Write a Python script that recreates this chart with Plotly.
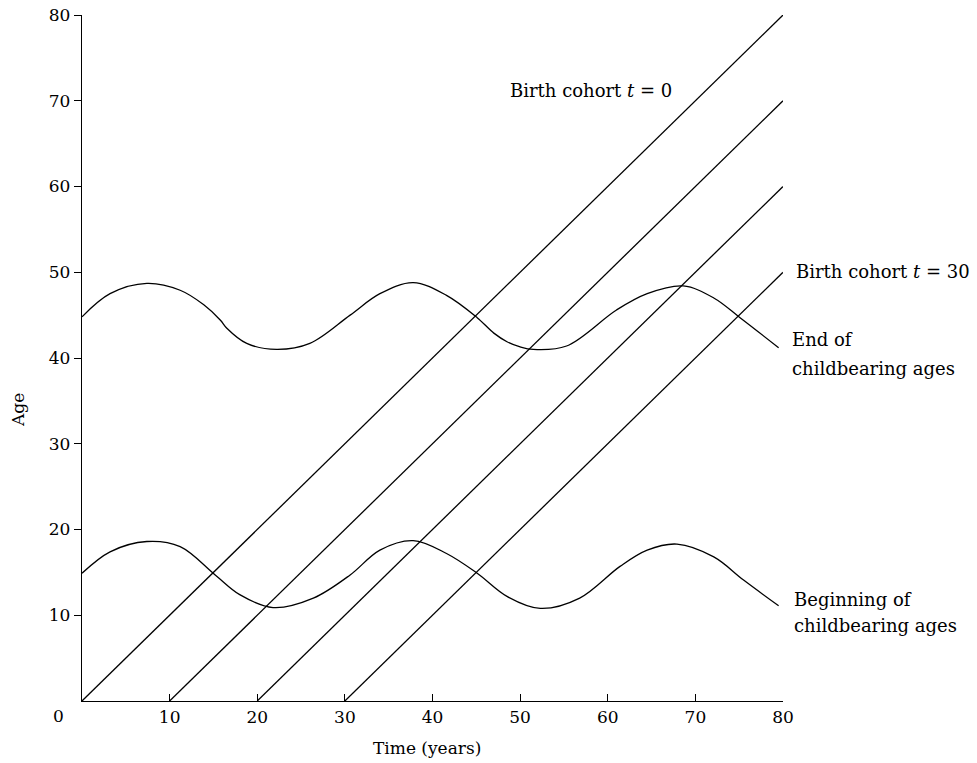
import plotly.graph_objects as go

# ---- data ----
cohort_starts = [0, 10, 20, 30]          # birth cohort start times
cohort_end_time = 80

end_t = [0, 3.2, 7.4, 11.2, 13.9, 15.8, 16.5, 18.8, 22.2, 26.0, 30.6, 34.0, 37.8,
         41.6, 45.1, 47.0, 48.5, 50.0, 51.5, 55.3, 61.0, 64.5, 68.6, 72.1, 75.1, 79.5]
end_age = [44.8, 47.5, 48.7, 47.9, 46.2, 44.4, 43.5, 41.7, 41.0, 41.7, 45.0, 47.5, 48.8,
           47.3, 44.7, 42.9, 41.9, 41.3, 41.0, 41.4, 45.6, 47.5, 48.4, 47.0, 44.7, 41.2]

beg_t = [0, 3.2, 7.4, 11.2, 15.2, 18.0, 21.8, 26.4, 30.6, 34.0, 37.8, 41.6, 45.1,
         48.5, 52.3, 56.8, 61.4, 64.5, 67.9, 72.1, 75.5, 79.5]
beg_age = [14.9, 17.4, 18.6, 18.0, 14.7, 12.4, 10.9, 12.0, 14.7, 17.6, 18.7, 17.2, 14.9,
           12.2, 10.8, 12.0, 15.7, 17.6, 18.3, 16.8, 14.1, 11.1]

x_ticks = [10, 20, 30, 40, 50, 60, 70, 80]
y_ticks = [10, 20, 30, 40, 50, 60, 70, 80]

FONT = "DejaVu Serif"
line_style = dict(color="black", width=1.3)

W, H = 977, 763
L, R, T, B = 82, 194, 15, 62
pw, ph = W - L - R, H - T - B
X0, X1, Y0, Y1 = 0, 80, 0, 80

fig = go.Figure()

for s in cohort_starts:
    fig.add_trace(go.Scatter(x=[s, cohort_end_time], y=[0, cohort_end_time - s],
                             mode="lines", line=line_style, hoverinfo="skip",
                             showlegend=False))

fig.add_trace(go.Scatter(x=end_t, y=end_age, mode="lines",
                         line=dict(color="black", width=1.3, shape="spline", smoothing=1.0),
                         showlegend=False))
fig.add_trace(go.Scatter(x=beg_t, y=beg_age, mode="lines",
                         line=dict(color="black", width=1.3, shape="spline", smoothing=1.0),
                         showlegend=False))

ann_font = dict(family=FONT, size=18, color="black")
# labels positioned in data units (converted to paper so they can sit outside the axes)
data_labels = [
    (48.6, 71.25, "Birth cohort <i>t</i> = 0"),
    (81.2, 50.1, "Birth cohort <i>t</i> = 30"),
    (80.8, 42.1, "End of"),
    (80.8, 38.8, "childbearing ages"),
    (81.0, 11.8, "Beginning of"),
    (81.0, 8.8, "childbearing ages"),
]
annotations = []
for x, y, txt in data_labels:
    annotations.append(dict(x=(x - X0) / (X1 - X0), y=(y - Y0) / (Y1 - Y0),
                            xref="paper", yref="paper", text=txt, showarrow=False,
                            xanchor="left", yanchor="middle", font=ann_font))

# labels positioned in page pixels
pixel_labels = [
    (58, 716, "0", 0),
    (427, 748, "Time (years)", 0),
    (18, 410, "Age", -90),
]
for px, py, txt, ang in pixel_labels:
    annotations.append(dict(x=(px - L) / pw, y=1 - (py - T) / ph, xref="paper", yref="paper",
                            text=txt, showarrow=False, textangle=ang,
                            xanchor="center", yanchor="middle",
                            font=dict(family=FONT, size=17, color="black")))

fig.update_layout(
    width=W, height=H,
    margin=dict(l=L, r=R, t=T, b=B, autoexpand=False),
    paper_bgcolor="white", plot_bgcolor="white",
    font=dict(family=FONT, size=17, color="black"),
    annotations=annotations,
    showlegend=False,
)
fig.update_xaxes(range=[X0, X1], showgrid=False, zeroline=False, showline=True,
                 linecolor="black", linewidth=1.3, ticks="inside", ticklen=7,
                 tickcolor="black", tickwidth=1.3, tickvals=x_ticks,
                 ticktext=[str(v) for v in x_ticks], automargin=False,
                 tickfont=dict(family=FONT, size=17))
fig.update_yaxes(range=[Y0, Y1], showgrid=False, zeroline=False, showline=True,
                 linecolor="black", linewidth=1.3, ticks="outside", ticklen=7,
                 tickcolor="black", tickwidth=1.3, tickvals=y_ticks,
                 ticktext=[str(v) for v in y_ticks], automargin=False,
                 tickfont=dict(family=FONT, size=17))

fig.write_html(
    "out.html",
    config={"displayModeBar": False},
    post_script="document.body.style.margin='0';document.body.style.padding='0';"
                "document.documentElement.style.overflow='hidden';",
)
